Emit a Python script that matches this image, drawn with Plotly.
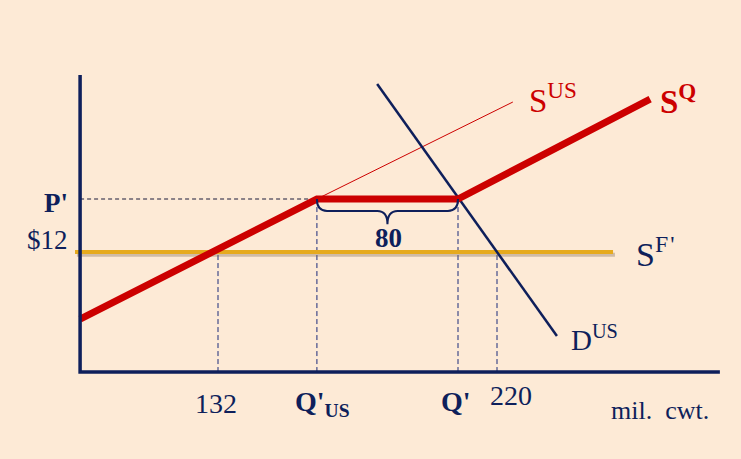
import plotly.graph_objects as go

# ---- data (schematic economic diagram, quantity in mil. cwt., price in $) ----
Q_132 = 132
Q_220 = 220
Q_US_PRIME = 163.2      # Q'US
Q_PRIME = 207.7         # Q'
P_12 = 12
P_PRIME = 14.0          # P'
QUOTA = 80

ORIGIN_Q, ORIGIN_P = 88.5, 7.47
AXIS_Q_END, AXIS_P_END = 290.3, 18.68

sq_q = [88.5, Q_US_PRIME, Q_PRIME, 268.3]
sq_p = [9.47, P_PRIME, P_PRIME, 17.77]

sus_q = [Q_US_PRIME, 225.0]
sus_p = [P_PRIME, 17.66]

dus_q = [182.2, 238.9]
dus_p = [18.34, 8.83]

sf_q = [86.9, 256.6]
sf_p = [P_12, P_12]

NAVY = "#0E1F5B"
DASH = "#1A2A7A"
RED = "#CC0000"
GOLD = "#E6AA1E"
BG = "#FDEAD6"
FONT = "Liberation Serif"

fig = go.Figure()

def line(xs, ys, color, width, dash="solid"):
    fig.add_trace(go.Scatter(x=xs, y=ys, mode="lines",
                             line=dict(color=color, width=width, dash=dash),
                             hoverinfo="skip", showlegend=False))

# dashed guides
line([ORIGIN_Q, Q_US_PRIME], [P_PRIME, P_PRIME], "#1a1a3a", 1, "4px,3px")
line([Q_132, Q_132], [ORIGIN_P, P_12], DASH, 1, "5px,3px")
line([Q_US_PRIME, Q_US_PRIME], [ORIGIN_P, P_PRIME], DASH, 1, "5px,3px")
line([Q_PRIME, Q_PRIME], [ORIGIN_P, P_PRIME], DASH, 1, "5px,3px")
line([Q_220, Q_220], [ORIGIN_P, P_12], DASH, 1, "5px,3px")

# SF' with shadow
line([q + 0.6 for q in sf_q], [p - 0.1 for p in sf_p], "rgba(120,100,80,0.35)", 4)
line(sf_q, sf_p, GOLD, 4)

# supply / demand
line(sus_q, sus_p, RED, 1)
line(dus_q, dus_p, NAVY, 2.5)
line(sq_q, sq_p, RED, 7)

# axes
line([ORIGIN_Q, ORIGIN_Q, AXIS_Q_END], [AXIS_P_END, ORIGIN_P, ORIGIN_P], NAVY, 3.5)

# brace under the quota segment
w = 3.2
d1, d2 = 0.45, 0.95
mid = (Q_US_PRIME + Q_PRIME) / 2
p = P_PRIME
path = (f"M {Q_US_PRIME},{p} Q {Q_US_PRIME},{p-d1} {Q_US_PRIME+w},{p-d1} "
        f"L {mid-w},{p-d1} Q {mid},{p-d1} {mid},{p-d2} "
        f"Q {mid},{p-d1} {mid+w},{p-d1} L {Q_PRIME-w},{p-d1} "
        f"Q {Q_PRIME},{p-d1} {Q_PRIME},{p}")
fig.add_shape(type="path", path=path, xref="x", yref="y",
              line=dict(color=NAVY, width=2), fillcolor="rgba(0,0,0,0)")

def ann(x, y, text, size, color=NAVY, xanchor="center", yanchor="middle", xshift=0, yshift=0):
    fig.add_annotation(x=x, y=y, text=text, showarrow=False, xref="x", yref="y",
                       font=dict(family=FONT, size=size, color=color),
                       xanchor=xanchor, yanchor=yanchor, xshift=xshift, yshift=yshift)

# y labels
ann(ORIGIN_Q, P_PRIME, "<b>P'</b>", 27, xanchor="right", xshift=-10, yshift=-4)
ann(ORIGIN_Q, P_12, "$12", 27, xanchor="right", xshift=-10, yshift=12)

# x labels
ann(Q_132, ORIGIN_P, "132", 28, yanchor="top", xshift=-2, yshift=-14)
ann(Q_US_PRIME, ORIGIN_P, "<b>Q'<sub>US</sub></b>", 28, yanchor="top", xshift=6, yshift=-12)
ann(Q_PRIME, ORIGIN_P, "<b>Q'</b>", 28, yanchor="top", xshift=-2, yshift=-12)
ann(Q_220, ORIGIN_P, "220", 28, yanchor="top", xshift=14, yshift=-6)
ann(AXIS_Q_END, ORIGIN_P, "mil.&nbsp;&nbsp;cwt.", 26, xanchor="right", yanchor="top", xshift=-9, yshift=-22)

# quota label
ann(mid, p - d2, f"<b>{QUOTA}</b>", 27, yanchor="top", xshift=1, yshift=3)

# curve labels
ann(sus_q[1], sus_p[1], "S<sup>US</sup>", 33, color=RED, xanchor="left", xshift=14, yshift=4)
ann(sq_q[-1], sq_p[-1], "<b>S<sup>Q</sup></b>", 33, color=RED, xanchor="left", xshift=8, yshift=0)
ann(sf_q[1], sf_p[1], "S<sup>F&#8202;'</sup>", 34, xanchor="left", xshift=21, yshift=0)
ann(dus_q[1], dus_p[1], "D<sup>US</sup>", 29, xanchor="left", xshift=12, yshift=-2)

fig.update_layout(
    width=741, height=459,
    margin=dict(l=0, r=0, t=0, b=0),
    paper_bgcolor=BG, plot_bgcolor=BG,
    xaxis=dict(range=[63.24, 296.96], visible=False, fixedrange=True),
    yaxis=dict(range=[4.189, 21.51], visible=False, fixedrange=True),
    showlegend=False,
)

fig.write_html("out.html", config={"displayModeBar": False},
               post_script="document.body.style.margin='0';document.body.style.overflow='hidden';")
